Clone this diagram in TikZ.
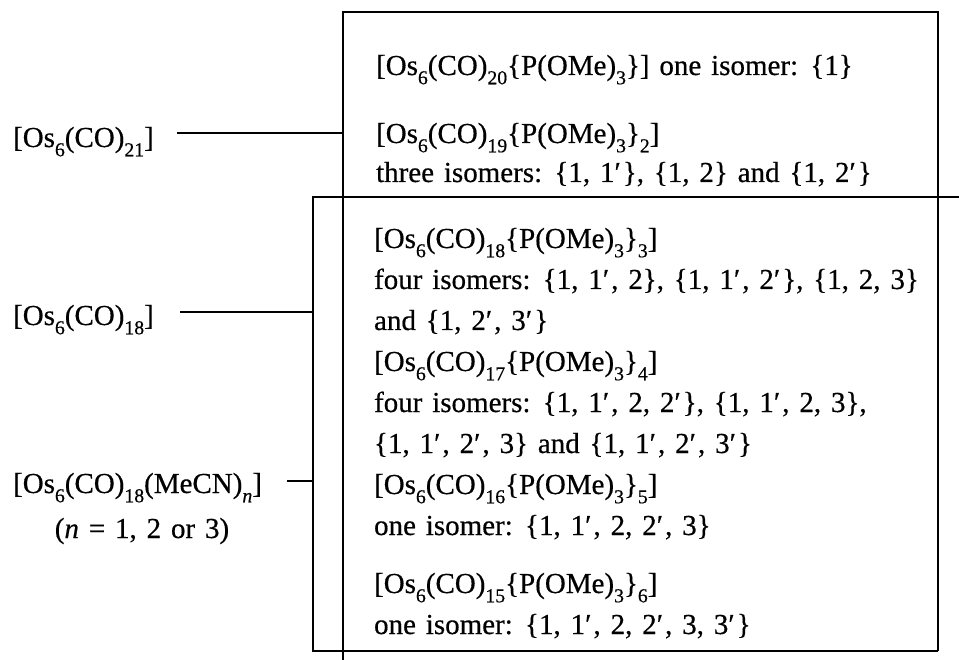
\documentclass[tikz,border=0pt]{standalone}
\usepackage{fontspec}
\setmainfont{Liberation Serif}[FakeBold=0.5]
\usepackage{graphicx}
\newcommand\sbs[1]{\raisebox{-0.32em}{\scalebox{0.68}{#1}}}
\newcommand\pom{P(OMe)\sbs{3}}
\newcommand\pr{′\kern0.07em}
\newcommand\txtfont{\fontsize{29}{34}\selectfont\spaceskip=0.34em plus 0.1em minus 0.05em\relax}
\begin{document}
\begin{tikzpicture}[x=1pt,y=-1pt,line width=2.2pt,
  txt/.style={anchor=base west,inner sep=0pt,font=\txtfont},
  ctxt/.style={anchor=base,inner sep=0pt,font=\txtfont}]
\useasboundingbox (0,0) rectangle (959,660);
% frame coordinates
\coordinate (lb) at (342.7,660);
\coordinate (tl) at (342.7,11.7);
\coordinate (tr) at (938,11.7);
\coordinate (br) at (938,651);
\coordinate (bl) at (313.3,651);
\coordinate (sepL) at (313.3,196.7);
\coordinate (sepR) at (959,196.7);
\draw (lb) -- (tl) -- (tr) -- (br);
\draw (br) -- (bl) -- (sepL) -- (sepR);
% left labels
\node[txt] (os21) at (12,147) {[Os\sbs{6}(CO)\sbs{21}]};
\node[txt] (os18) at (12,325) {[Os\sbs{6}(CO)\sbs{18}]};
\node[txt] (mecn) at (12,493) {[Os\sbs{6}(CO)\sbs{18}(MeCN)\sbs{\itshape n}]};
\node[ctxt] (nval) at (142,538) {(\textit{n} = 1, 2 or 3)};
% connectors
\coordinate (c21s) at (177,133);
\coordinate (c21e) at (342.7,133);
\coordinate (c18s) at (180,311.7);
\coordinate (c18e) at (313.3,311.7);
\coordinate (cms) at (287,480.7);
\coordinate (cme) at (313.3,480.7);
\draw (c21s) -- (c21e);
\draw (c18s) -- (c18e);
\draw (cms) -- (cme);
% top box text
\node[txt] (t1) at (375,75) {[Os\sbs{6}(CO)\sbs{20}\{\pom\}] one isomer: \{1\}};
\node[txt] (t2) at (375,143) {[Os\sbs{6}(CO)\sbs{19}\{\pom\}\sbs{2}]};
\node[txt] (t3) at (375,182) {three isomers: \{1, 1\pr\}, \{1, 2\} and \{1, 2\pr\}};
% lower box text
\node[txt] (b1) at (373,248) {[Os\sbs{6}(CO)\sbs{18}\{\pom\}\sbs{3}]};
\node[txt] (b2) at (373,289) {four isomers: \{1, 1\pr, 2\}, \{1, 1\pr, 2\pr\}, \{1, 2, 3\}};
\node[txt] (b3) at (373,330) {and \{1, 2\pr, 3\pr\}};
\node[txt] (b4) at (373,371) {[Os\sbs{6}(CO)\sbs{17}\{\pom\}\sbs{4}]};
\node[txt] (b5) at (373,412) {four isomers: \{1, 1\pr, 2, 2\pr\}, \{1, 1\pr, 2, 3\},};
\node[txt] (b6) at (373,453) {\{1, 1\pr, 2\pr, 3\} and \{1, 1\pr, 2\pr, 3\pr\}};
\node[txt] (b7) at (373,494) {[Os\sbs{6}(CO)\sbs{16}\{\pom\}\sbs{5}]};
\node[txt] (b8) at (373,535) {one isomer: \{1, 1\pr, 2, 2\pr, 3\}};
\node[txt] (b9) at (373,593) {[Os\sbs{6}(CO)\sbs{15}\{\pom\}\sbs{6}]};
\node[txt] (b10) at (373,634) {one isomer: \{1, 1\pr, 2, 2\pr, 3, 3\pr\}};
\end{tikzpicture}
\end{document}
